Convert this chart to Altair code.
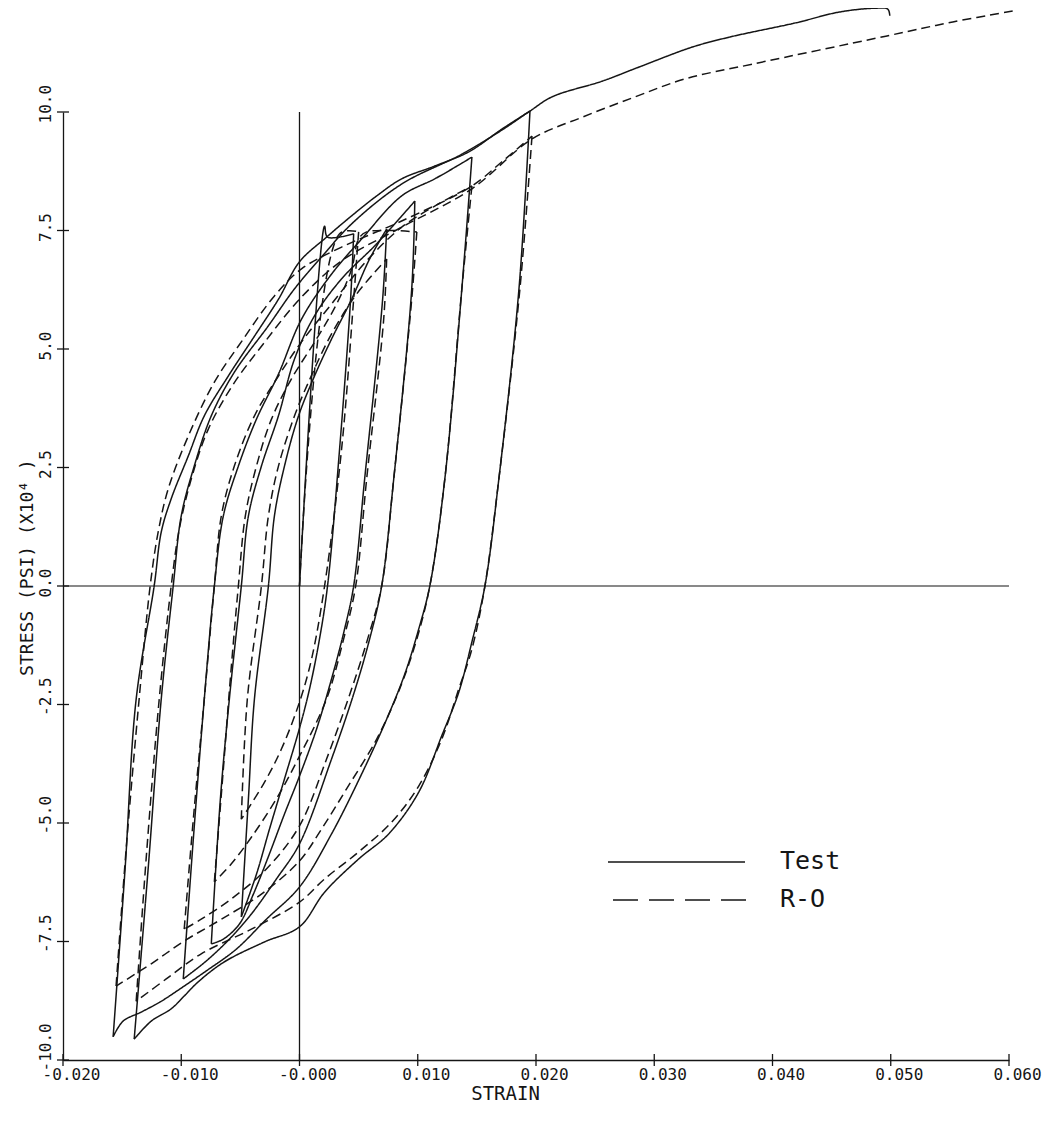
import json
import altair as alt
import pandas as pd

# ---------------- axis data ----------------
X_TICKS = [-0.02, -0.01, 0.0, 0.01, 0.02, 0.03, 0.04, 0.05, 0.06]
X_TICK_LABELS = ["-0.020", "-0.010", "-0.000", "0.010", "0.020", "0.030", "0.040", "0.050", "0.060"]
Y_TICKS = [-10.0, -7.5, -5.0, -2.5, 0.0, 2.5, 5.0, 7.5, 10.0]
Y_TICK_LABELS = ["-10.0", "-7.5", "-5.0", "-2.5", "0.0", "2.5", "5.0", "7.5", "10.0"]
X_TITLE = "STRAIN"
Y_TITLE = "STRESS  (PSI) (X10\u2074 )"
LEGEND_LABELS = ["Test", "R-O"]

# ---------------- Test (solid) branches: (strain, stress x1e4 psi) ----------------
TEST_INIT = [(0.0, 0.0), (0.00212, 7.59), (0.00237, 7.36), (0.00458, 7.43)]
TEST_DOWN_5 = [(0.00458, 7.43), (0.00432, 6.05), (0.00339, 2.89), (0.00237, 0.0), (0.00169, -1.12),
               (0.00085, -2.17), (0.0, -3.00), (-0.00127, -4.07), (-0.00254, -5.13), (-0.00364, -6.08),
               (-0.00492, -6.98)]
TEST_UP_5 = [(-0.00492, -6.98), (-0.00432, -4.49), (-0.00381, -2.38), (-0.00263, 0.0), (-0.00212, 1.48),
             (-0.00127, 2.53), (-0.00008, 3.59), (0.00127, 4.43), (0.00271, 5.21), (0.00441, 6.05),
             (0.00593, 6.90), (0.00737, 7.53)]
TEST_DOWN_4 = [(0.00737, 7.53), (0.00703, 6.05), (0.00551, 2.26), (0.00458, 0.0), (0.00381, -0.91),
               (0.00271, -1.96), (0.00144, -3.02), (0.0, -4.01), (-0.00127, -4.81), (-0.00254, -5.65),
               (-0.00390, -6.50), (-0.00508, -7.13), (-0.00644, -7.45), (-0.00746, -7.55)]
TEST_UP_4 = [(-0.00746, -7.55), (-0.00669, -4.49), (-0.00593, -2.38), (-0.00492, 0.0), (-0.00432, 1.48),
             (-0.00322, 2.53), (-0.00178, 3.59), (-0.00042, 4.79), (0.00127, 5.70), (0.00356, 6.48),
             (0.00653, 7.22), (0.00975, 8.12)]
TEST_DOWN_3 = [(0.00975, 8.12), (0.00949, 6.27), (0.00797, 2.26), (0.00695, 0.0), (0.00593, -1.12),
               (0.00458, -2.28), (0.00271, -3.65), (0.0, -5.44), (-0.00195, -6.18), (-0.00407, -6.92),
               (-0.00593, -7.45), (-0.00788, -7.91), (-0.00983, -8.29)]
TEST_UP_3 = [(-0.00983, -8.29), (-0.00898, -5.34), (-0.00805, -2.38), (-0.00720, 0.0), (-0.00644, 1.48),
             (-0.00517, 2.53), (-0.00364, 3.52), (-0.00178, 4.47), (0.00017, 5.63), (0.00271, 6.58),
             (0.00525, 7.32), (0.00864, 8.23), (0.01144, 8.59), (0.01373, 8.92), (0.01458, 9.05)]
TEST_DOWN_2 = [(0.01458, 9.05), (0.01373, 6.27), (0.01229, 2.26), (0.01102, 0.0), (0.01008, -0.91),
               (0.00890, -1.86), (0.00737, -2.81), (0.00525, -3.97), (0.00271, -5.23), (0.0, -6.35),
               (-0.00280, -7.03), (-0.00534, -7.66), (-0.00788, -8.12), (-0.00975, -8.44),
               (-0.01169, -8.76), (-0.01339, -8.99), (-0.01492, -9.18), (-0.01576, -9.51)]
TEST_UP_2 = [(-0.01576, -9.51), (-0.01475, -5.97), (-0.01381, -2.38), (-0.01229, 0.0), (-0.01169, 1.14),
             (-0.01085, 1.84), (-0.00941, 2.74), (-0.00805, 3.59), (-0.00602, 4.43), (-0.00381, 5.27),
             (-0.00178, 6.05), (0.0, 6.84), (0.00229, 7.36), (0.00441, 7.81), (0.00653, 8.23),
             (0.00864, 8.59), (0.01144, 8.86), (0.01432, 9.16), (0.01712, 9.64), (0.01949, 10.02)]
TEST_DOWN_1 = [(0.01949, 10.02), (0.01856, 6.27), (0.01686, 2.26), (0.01568, 0.0), (0.01458, -1.18),
               (0.01347, -2.24), (0.01203, -3.16), (0.01008, -4.35), (0.00754, -5.23), (0.00500, -5.76),
               (0.00212, -6.46), (0.0, -7.19), (-0.00297, -7.51), (-0.00636, -7.93), (-0.00856, -8.35),
               (-0.00975, -8.65), (-0.01085, -8.92), (-0.01254, -9.18), (-0.01398, -9.56)]
TEST_UP_1 = [(-0.01398, -9.56), (-0.01280, -5.97), (-0.01169, -2.38), (-0.01068, 0.0), (-0.01000, 1.48),
             (-0.00890, 2.53), (-0.00746, 3.59), (-0.00551, 4.51), (-0.00263, 5.49), (-0.00042, 6.27),
             (0.00186, 6.94), (0.00441, 7.64), (0.00864, 8.48), (0.01373, 9.11), (0.01712, 9.62),
             (0.01949, 10.02), (0.02136, 10.32), (0.02559, 10.65), (0.02873, 10.95), (0.03322, 11.37),
             (0.03636, 11.58), (0.04195, 11.88), (0.04568, 12.11), (0.04873, 12.19), (0.04975, 12.17),
             (0.04992, 12.03)]

# ---------------- R-O (dashed) branches ----------------
RO_INIT = [(0.0, 0.0), (0.00339, 7.43), (0.00500, 7.47)]
RO_DOWN_5 = [(0.00500, 7.47), (0.00458, 6.05), (0.00356, 2.89), (0.00212, 0.0), (0.00102, -1.54),
             (0.0, -2.45), (-0.00153, -3.44), (-0.00305, -4.18), (-0.00492, -4.92)]
RO_UP_5 = [(-0.00492, -4.92), (-0.00441, -2.38), (-0.00322, 0.0), (-0.00263, 1.48), (-0.00178, 2.53),
           (-0.00042, 3.59), (0.00076, 4.30), (0.00271, 5.32), (0.00483, 6.16), (0.00737, 6.90)]
RO_DOWN_4 = [(0.00737, 6.90), (0.00712, 5.63), (0.00568, 2.26), (0.00475, 0.0), (0.00373, -1.12),
             (0.00229, -2.38), (0.0, -3.59), (-0.00195, -4.49), (-0.00407, -5.30), (-0.00576, -5.86),
             (-0.00720, -6.24)]
RO_UP_4 = [(-0.00720, -6.24), (-0.00644, -3.86), (-0.00585, -1.96), (-0.00517, 0.0), (-0.00458, 1.48),
           (-0.00364, 2.53), (-0.00237, 3.52), (-0.00068, 4.37), (0.00144, 5.21), (0.00314, 5.95),
           (0.00441, 6.69), (0.00500, 7.32), (0.00568, 7.47), (0.00992, 7.47)]
RO_DOWN_3 = [(0.00992, 7.47), (0.00949, 6.05), (0.00797, 2.26), (0.00695, 0.0), (0.00576, -1.12),
             (0.00441, -2.17), (0.00229, -3.65), (0.0, -5.06), (-0.00280, -5.97), (-0.00576, -6.60),
             (-0.00831, -7.03), (-0.00975, -7.24)]
RO_UP_3 = [(-0.00975, -7.24), (-0.00898, -4.92), (-0.00805, -2.38), (-0.00720, 0.0), (-0.00661, 1.48),
           (-0.00551, 2.53), (-0.00381, 3.59), (-0.00178, 4.43), (0.00017, 5.15), (0.00271, 5.95),
           (0.00568, 6.86), (0.00864, 7.57), (0.01161, 8.04), (0.01458, 8.44)]
RO_DOWN_2 = [(0.01458, 8.44), (0.01373, 6.27), (0.01229, 2.26), (0.01102, 0.0), (0.00992, -1.12),
             (0.00847, -2.17), (0.00653, -3.23), (0.00398, -4.28), (0.00186, -5.13), (0.0, -5.80),
             (-0.00322, -6.50), (-0.00661, -7.03), (-0.00975, -7.49), (-0.01254, -7.97), (-0.01551, -8.44)]
RO_UP_2 = [(-0.01551, -8.44), (-0.01466, -5.55), (-0.01356, -2.38), (-0.01263, 0.0), (-0.01195, 1.14),
           (-0.01110, 2.05), (-0.00941, 3.16), (-0.00720, 4.30), (-0.00492, 5.15), (-0.00212, 6.12),
           (0.00017, 6.69), (0.00356, 7.15), (0.00864, 7.70), (0.01458, 8.44), (0.01712, 8.95),
           (0.01966, 9.49)]
RO_DOWN_1 = [(0.01966, 9.49), (0.01864, 6.27), (0.01686, 2.26), (0.01568, 0.0), (0.01458, -1.33),
             (0.01347, -2.17), (0.01203, -3.23), (0.01008, -4.22), (0.00780, -4.98), (0.00500, -5.61),
             (0.00212, -6.18), (0.0, -6.67), (-0.00407, -7.24), (-0.00831, -7.76), (-0.01127, -8.29),
             (-0.01381, -8.76)]
RO_UP_1 = [(-0.01381, -8.76), (-0.01297, -5.76), (-0.01186, -2.38), (-0.01085, 0.0), (-0.01017, 1.20),
           (-0.00915, 2.26), (-0.00771, 3.31), (-0.00559, 4.26), (-0.00305, 5.11), (0.0, 6.05),
           (0.00356, 6.86), (0.00864, 7.57), (0.01458, 8.38), (0.01966, 9.43), (0.02390, 9.89),
           (0.02839, 10.32), (0.03263, 10.70), (0.03831, 11.01), (0.04958, 11.60), (0.05525, 11.90),
           (0.06034, 12.13)]

SERIES = [
    ("Test", [TEST_INIT, TEST_DOWN_5, TEST_UP_5, TEST_DOWN_4, TEST_UP_4, TEST_DOWN_3, TEST_UP_3,
              TEST_DOWN_2, TEST_UP_2, TEST_DOWN_1, TEST_UP_1]),
    ("R-O", [RO_INIT, RO_DOWN_5, RO_UP_5, RO_DOWN_4, RO_UP_4, RO_DOWN_3, RO_UP_3,
             RO_DOWN_2, RO_UP_2, RO_DOWN_1, RO_UP_1]),
]

rows = []
for name, branches in SERIES:
    for bi, br in enumerate(branches):
        for i, (sx, sy) in enumerate(br):
            rows.append({"strain": sx, "stress": sy, "series": name, "branch": f"{name}-{bi}", "idx": i})
df = pd.DataFrame(rows)

W, H = 946, 948
INK = "#151515"
FONT = "DejaVu Sans Mono"

x_scale = alt.Scale(domain=[X_TICKS[0], X_TICKS[-1]], nice=False, zero=False)
y_scale = alt.Scale(domain=[Y_TICKS[0], Y_TICKS[-1]], nice=False, zero=False)

x_label_expr = f"{json.dumps(X_TICK_LABELS)}[round((datum.value - ({X_TICKS[0]})) / 0.01)]"
y_label_expr = f"{json.dumps(Y_TICK_LABELS)}[round((datum.value - ({Y_TICKS[0]})) / 2.5)]"

x_axis = alt.Axis(values=X_TICKS, labelExpr=x_label_expr, grid=False, ticks=False,
                  domainColor=INK, domainWidth=1.3, labelColor=INK, labelFont=FONT, labelFontSize=16,
                  labelPadding=6, labelOffset=8, labelOverlap=False, labelFlush=False,
                  title=X_TITLE, titleFont=FONT, titleFontSize=19, titleFontWeight="normal",
                  titleColor=INK, titleX=442, titleY=39, titleAlign="center", titleBaseline="alphabetic")
y_axis = alt.Axis(values=Y_TICKS, labelExpr=y_label_expr, grid=False, ticks=False,
                  domainColor=INK, domainWidth=1.3, labelColor=INK, labelFont=FONT, labelFontSize=16,
                  labelAngle=270, labelAlign="left", labelBaseline="bottom", labelPadding=10,
                  labelOffset=11, labelOverlap=False, labelFlush=False,
                  title=Y_TITLE, titleFont=FONT, titleFontSize=18, titleFontWeight="normal",
                  titleColor=INK, titleAngle=270, titleX=-36, titleY=455, titleAlign="center",
                  titleBaseline="middle")

curves = alt.Chart(df).mark_line(interpolate="catmull-rom", strokeWidth=1.5, color=INK).encode(
    x=alt.X("strain:Q", scale=x_scale, axis=x_axis),
    y=alt.Y("stress:Q", scale=y_scale, axis=y_axis),
    strokeDash=alt.StrokeDash("series:N", scale=alt.Scale(domain=LEGEND_LABELS, range=[[1, 0], [9, 5]]),
                              legend=None),
    detail="branch:N",
    order="idx:Q",
)

# zero lines
vzero = alt.Chart(pd.DataFrame({"strain": [0.0], "stress": [Y_TICKS[0]], "stress2": [Y_TICKS[-1]]})).mark_rule(
    color=INK, strokeWidth=1.3).encode(x="strain:Q", y="stress:Q", y2="stress2:Q")
hzero = alt.Chart(pd.DataFrame({"stress": [0.0], "strain": [X_TICKS[0]], "strain2": [X_TICKS[-1]]})).mark_rule(
    color=INK, strokeWidth=1.2).encode(y="stress:Q", x="strain:Q", x2="strain2:Q")

# crossing ticks
xticks = alt.Chart(pd.DataFrame({"strain": X_TICKS})).mark_rule(color=INK, strokeWidth=1.3).encode(
    x="strain:Q", y=alt.value(H - 6), y2=alt.value(H + 6))
yticks = alt.Chart(pd.DataFrame({"stress": Y_TICKS})).mark_rule(color=INK, strokeWidth=1.3).encode(
    y="stress:Q", x=alt.value(-6), x2=alt.value(6))

# legend
leg_test_line = alt.Chart(pd.DataFrame({"label": [LEGEND_LABELS[0]]})).mark_rule(
    color=INK, strokeWidth=1.6).encode(x=alt.value(545), x2=alt.value(682), y=alt.value(750))
leg_ro_line = alt.Chart(pd.DataFrame({"label": [LEGEND_LABELS[1]]})).mark_rule(
    color=INK, strokeWidth=1.6, strokeDash=[25, 11]).encode(x=alt.value(550), x2=alt.value(684), y=alt.value(788))
leg_test_text = alt.Chart(pd.DataFrame({"label": [LEGEND_LABELS[0]]})).mark_text(
    align="left", baseline="middle", font=FONT, fontSize=25, color=INK).encode(
    x=alt.value(717), y=alt.value(749), text="label:N")
leg_ro_text = alt.Chart(pd.DataFrame({"label": [LEGEND_LABELS[1]]})).mark_text(
    align="left", baseline="middle", font=FONT, fontSize=25, color=INK).encode(
    x=alt.value(717), y=alt.value(787), text="label:N")

chart = alt.layer(
    vzero, hzero, curves, xticks, yticks, leg_test_line, leg_ro_line, leg_test_text, leg_ro_text
).properties(
    width=W, height=H,
    autosize=alt.AutoSizeParams(type="none"),
    padding={"left": 55, "top": 104, "right": 40, "bottom": 50},
    background="white",
).configure_view(stroke="transparent")

chart.save("out.html", embed_options={"renderer": "svg", "actions": False})
